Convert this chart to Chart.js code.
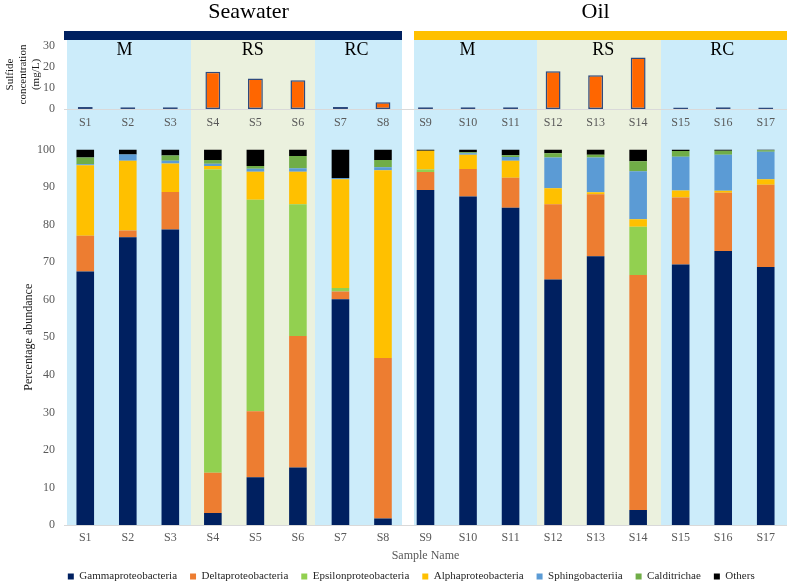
<!DOCTYPE html>
<html>
<head>
<meta charset="utf-8">
<script src="https://cdn.jsdelivr.net/npm/chart.js"></script>
<style>
  html, body { margin: 0; padding: 0; background: #fff; width: 787px; height: 584px; overflow: hidden; }
  canvas { position: absolute; left: 0; }
</style>
</head>
<body>
<canvas id="sulfideChart" width="787" height="140" style="top:0"></canvas>
<canvas id="abundanceChart" width="787" height="452" style="top:140px"></canvas>
<script>
  // samples and values
  const samples = ['S1', 'S2', 'S3', 'S4', 'S5', 'S6', 'S7', 'S8', 'S9',
                   'S10', 'S11', 'S12', 'S13', 'S14', 'S15', 'S16', 'S17'];
  const sulfide = [1.0, 0.8, 0.8, 17.8, 14.6, 13.7, 1.0, 3.2, 0.8,
                   0.8, 0.8, 18.1, 16.2, 24.6, 0.7, 0.8, 0.7];
  const sulfideTicks = [0, 10, 20, 30];

  const gamma   = [67.5, 76.6, 78.7, 3.2, 12.7, 15.3, 60.1, 1.7, 89.2, 87.5, 84.5, 65.4, 71.6, 4.0, 69.4, 73.0, 68.7];
  const delta   = [9.5, 1.8, 10.0, 10.7, 17.6, 35.0, 2.1, 42.8, 4.8, 7.3, 8.0, 20.0, 16.5, 62.6, 17.8, 15.5, 21.9];
  const epsilon = [0, 0, 0, 80.8, 56.3, 35.1, 0.9, 0, 0.7, 0, 0, 0, 0, 12.8, 0, 0, 0];
  const alpha   = [18.8, 18.6, 7.6, 0.9, 7.5, 8.7, 29.0, 50.0, 5.0, 3.8, 4.5, 4.3, 0.5, 2.0, 1.9, 0.5, 1.5];
  const sphingo = [0.3, 1.7, 0.7, 0.6, 0.8, 0.9, 0.3, 0.8, 0, 0.4, 1.0, 8.2, 9.3, 12.8, 9.0, 9.6, 7.3];
  const caldi   = [1.8, 0, 1.4, 1.0, 0.7, 3.3, 0, 1.9, 0, 0.3, 0.5, 1.1, 0.7, 2.7, 1.5, 1.1, 0.4];
  const others  = [2.1, 1.3, 1.6, 2.8, 4.4, 1.7, 7.6, 2.8, 0.3, 0.7, 1.5, 1.0, 1.4, 3.1, 0.4, 0.3, 0.2];

  const groups = ['Seawater', 'Oil'];
  const regionNames = ['M', 'RS', 'RC', 'M', 'RS', 'RC'];

  // decoration layout, in category units along the x scale
  const headerSpans = [[0, 7.94], [8.23, 17]];
  const headerColors = ['#002060', '#FFC000'];
  const headerTextPos = [4.34, 12.5];
  const regionSpans = [[0.06, 2.98], [2.98, 5.9], [5.9, 7.94], [8.23, 11.13], [11.13, 14.04], [14.04, 17]];
  const regionLabelPos = [1.42, 4.44, 6.88, 9.49, 12.68, 15.48];
  const LIGHT_BLUE = '#CCECFA';
  const LIGHT_GREEN = '#EBF1DE';
  const regionFills = [LIGHT_BLUE, LIGHT_GREEN, LIGHT_BLUE, LIGHT_BLUE, LIGHT_GREEN, LIGHT_BLUE];

  const SERIF = "'Liberation Serif', 'Times New Roman', serif";
  Chart.defaults.font.family = SERIF;
  Chart.defaults.color = '#595959';

  const panelBackground = {
    id: 'panelBackground',
    beforeDraw(chart, args, opts) {
      const { ctx, chartArea: a } = chart;
      const step = (a.right - a.left) / samples.length;
      const px = u => Math.round(a.left + u * step);
      const top = opts.upper ? a.top : 0;
      const bottom = opts.upper ? chart.height : a.bottom;
      ctx.save();
      regionSpans.forEach(([u0, u1], i) => {
        ctx.fillStyle = regionFills[i];
        ctx.fillRect(px(u0), top, px(u1) - px(u0), bottom - top);
      });
      if (opts.upper) {
        headerSpans.forEach(([u0, u1], i) => {
          ctx.fillStyle = headerColors[i];
          ctx.fillRect(px(u0), a.top - 9, px(u1) - px(u0), 9);
        });
        ctx.fillStyle = '#000';
        ctx.textAlign = 'center';
        ctx.textBaseline = 'alphabetic';
        ctx.font = '22px ' + SERIF;
        groups.forEach((g, i) => ctx.fillText(g, a.left + headerTextPos[i] * step, a.top - 22));
        ctx.font = '18px ' + SERIF;
        regionNames.forEach((r, i) => ctx.fillText(r, a.left + regionLabelPos[i] * step, a.top + 15));
      }
      ctx.restore();
    }
  };

  // hidden tick marks give the label gap without padding the chart area
  const yGrid = { display: false, drawTicks: true, tickLength: 9 };

  new Chart(document.getElementById('sulfideChart'), {
    type: 'bar',
    data: {
      labels: samples,
      datasets: [{
        label: 'Sulfide',
        data: sulfide,
        backgroundColor: '#FF6600',
        borderColor: '#2E4A7D',
        borderWidth: 1.5,
        borderSkipped: false,
        barPercentage: 0.35,
        categoryPercentage: 1
      }]
    },
    options: {
      responsive: false,
      animation: false,
      layout: { padding: { top: 40, left: 0, right: 0, bottom: 0 } },
      plugins: {
        legend: { display: false },
        tooltip: { enabled: false },
        panelBackground: { upper: true }
      },
      scales: {
        x: {
          offset: true,
          grid: { display: false, drawTicks: false },
          border: { display: true, color: '#D9D9D9', width: 1 },
          ticks: { padding: 7, font: { size: 12 }, color: '#595959' },
          afterFit: s => { s.height = 31; }
        },
        y: {
          min: 0,
          max: 33,
          afterBuildTicks: s => { s.ticks = sulfideTicks.map(v => ({ value: v })); },
          grid: yGrid,
          border: { display: false },
          ticks: { padding: 0, font: { size: 12 }, color: '#595959' },
          title: {
            display: true,
            text: ['Sulfide', 'concentration', '(mg/L)'],
            color: '#1a1a1a',
            font: { size: 11 },
            padding: { top: 3.4, bottom: 0 }
          },
          afterFit: s => { s.width = 64; }
        }
      }
    },
    plugins: [panelBackground]
  });

  const series = [
    ['Gammaproteobacteria', gamma, '#002060'],
    ['Deltaproteobacteria', delta, '#ED7D31'],
    ['Epsilonproteobacteria', epsilon, '#92D050'],
    ['Alphaproteobacteria', alpha, '#FFC000'],
    ['Sphingobacteriia', sphingo, '#5B9BD5'],
    ['Calditrichae', caldi, '#70AD47'],
    ['Others', others, '#000000']
  ];

  new Chart(document.getElementById('abundanceChart'), {
    type: 'bar',
    data: {
      labels: samples,
      datasets: series.map(([name, values, color]) => ({
        label: name,
        data: values,
        backgroundColor: color,
        borderWidth: 0,
        barPercentage: 0.414,
        categoryPercentage: 1
      }))
    },
    options: {
      responsive: false,
      animation: false,
      layout: { padding: { top: 9.5, left: 0, right: 0, bottom: 0 } },
      plugins: {
        tooltip: { enabled: false },
        panelBackground: { upper: false },
        legend: {
          position: 'bottom',
          labels: {
            boxWidth: 6,
            boxHeight: 6,
            padding: 13,
            color: '#262626',
            font: { size: 11 },
            generateLabels: chart => {
              const items = Chart.defaults.plugins.legend.labels.generateLabels(chart);
              // blank lead-in entry nudges the row right like the original
              items.unshift({ text: '    ', fillStyle: 'rgba(0,0,0,0)', strokeStyle: 'rgba(0,0,0,0)', lineWidth: 0, hidden: false, datasetIndex: -1 });
              return items;
            }
          }
        }
      },
      scales: {
        x: {
          stacked: true,
          offset: true,
          grid: { display: false, drawTicks: false },
          border: { display: true, color: '#D9D9D9', width: 1 },
          ticks: { padding: 6, font: { size: 12 }, color: '#595959' },
          title: {
            display: true,
            text: 'Sample Name',
            color: '#595959',
            font: { size: 12 },
            padding: { top: 0, bottom: -5 }
          },
          afterFit: s => { s.height = 33; }
        },
        y: {
          stacked: true,
          min: 0,
          max: 100,
          grid: yGrid,
          border: { display: false },
          ticks: { stepSize: 10, padding: 0, font: { size: 12 }, color: '#595959' },
          title: {
            display: true,
            text: 'Percentage abundance',
            color: '#1a1a1a',
            font: { size: 12 },
            padding: { top: 22, bottom: 0 }
          },
          afterFit: s => { s.width = 64; }
        }
      }
    },
    plugins: [panelBackground]
  });
</script>
</body>
</html>
